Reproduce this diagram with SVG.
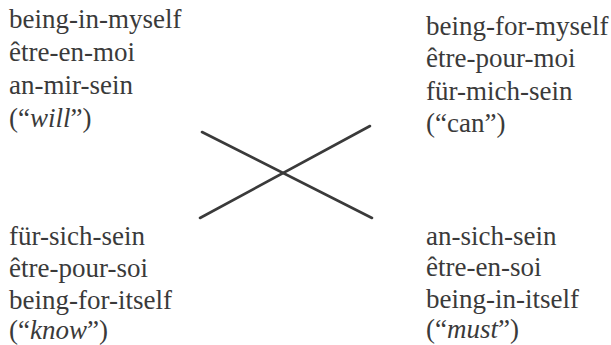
<svg xmlns="http://www.w3.org/2000/svg" width="611" height="345" viewBox="0 0 611 345">
<style>
text{font-family:'Liberation Serif','Times New Roman',Tinos,'DejaVu Serif','Noto Serif',serif;font-size:27px;fill:#3a3a3a}
.i{font-style:italic}
.c line{stroke:#3a3a3a;stroke-width:2.6;stroke-linecap:round}
</style>
<rect width="611" height="345" fill="#fff"/>
<g id="tl">
<text x="9" y="28">being-in-myself</text>
<text x="9" y="61">être-en-moi</text>
<text x="9" y="94">an-mir-sein</text>
<text x="9" y="127">(“<tspan class="i">will</tspan>”)</text>
</g>
<g id="tr">
<text x="426" y="35">being-for-myself</text>
<text x="426" y="67">être-pour-moi</text>
<text x="426" y="100">für-mich-sein</text>
<text x="426" y="132">(“can”)</text>
</g>
<g id="bl">
<text x="9" y="245">für-sich-sein</text>
<text x="9" y="277">être-pour-soi</text>
<text x="9" y="309">being-for-itself</text>
<text x="9" y="339">(“<tspan class="i">know</tspan>”)</text>
</g>
<g id="br">
<text x="426" y="245">an-sich-sein</text>
<text x="426" y="276">être-en-soi</text>
<text x="426" y="308">being-in-itself</text>
<text x="426" y="338">(“<tspan class="i">must</tspan>”)</text>
</g>
<g class="c" id="connectors">
<line x1="202" y1="132" x2="372" y2="218"/>
<line x1="200" y1="218" x2="370" y2="126"/>
</g>
</svg>
